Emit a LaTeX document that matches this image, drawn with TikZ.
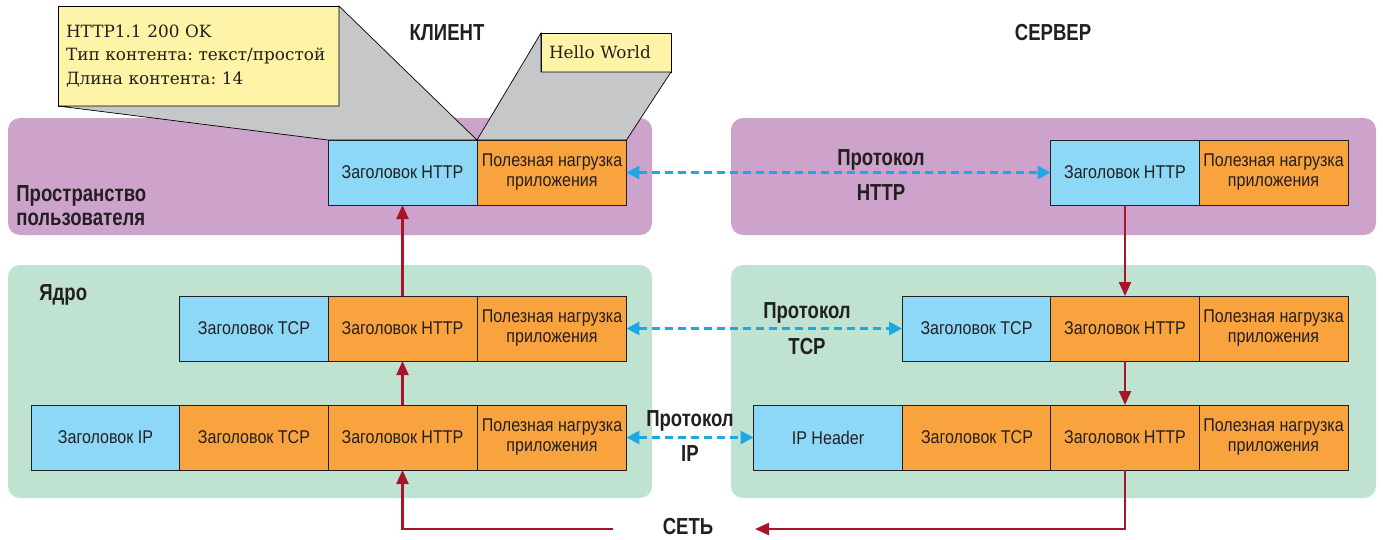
\documentclass[tikz,border=0pt]{standalone}
\usepackage{fontspec}
\usepackage{xcolor}
\usepackage{tikz}
\usetikzlibrary{arrows.meta}
\newfontfamily\cellfont[FakeStretch=0.87]{Liberation Sans}
\newfontfamily\headfont[FakeStretch=0.8]{Liberation Sans}
\newfontfamily\notefont{DejaVu Serif}
\definecolor{userpink}{HTML}{CDA3CC}
\definecolor{kernelgreen}{HTML}{C0E2D0}
\definecolor{hdrblue}{HTML}{8DD8F7}
\definecolor{hdrorange}{HTML}{F8A33D}
\definecolor{noteyellow}{HTML}{FDF4A8}
\definecolor{bevelgray}{HTML}{C6C7C9}
\definecolor{netred}{HTML}{A8142A}
\definecolor{protocyan}{HTML}{1BA8E4}
\definecolor{inkgray}{HTML}{231F20}
\frenchspacing

\begin{document}
\begin{tikzpicture}[
  x=0.02cm, y=-0.02cm,
  cell/.style={draw=inkgray, line width=0.5pt, minimum width=2.98cm, minimum height=1.3cm, inner sep=0pt, outer sep=0pt, align=center, text=inkgray, font=\cellfont\fontsize{10.5}{11.4}\selectfont},
  hdr/.style={cell, fill=hdrblue},
  load/.style={cell, fill=hdrorange},
  note/.style={draw=black, line width=0.4pt, fill=noteyellow, inner xsep=0.16cm, inner ysep=0pt, outer sep=0pt, align=left, text=inkgray, font=\notefont\fontsize{9.6}{13.3}\selectfont},
  caption/.style={text=inkgray, inner sep=0pt, font=\headfont\bfseries\fontsize{13.2}{20.4}\selectfont},
  panel/.style={rounded corners=0.24cm},
  bevel/.style={fill=bevelgray, draw=black, line width=0.4pt},
  flow/.style={netred, line width=1.3pt, -{Triangle[length=0.28cm, width=0.24cm]}},
  proto/.style={protocyan, line width=1.7pt, dash pattern=on 0.16cm off 0.1cm, {Triangle[length=0.26cm, width=0.26cm]}-{Triangle[length=0.26cm, width=0.26cm]}}
]
\useasboundingbox (0,0) rectangle (1383,539);

\fill[userpink, panel] (8,118) rectangle (652,235);
\fill[userpink, panel] (731,118) rectangle (1376,235);
\fill[kernelgreen, panel] (8,265) rectangle (652,498);
\fill[kernelgreen, panel] (731,265) rectangle (1376,498);

\node[hdr] (chttp1) at (402.5,172.5) {Заголовок HTTP};
\node[load] (cpay1) at (552,172.5) {Полезная нагрузка\\приложения};
\node[hdr] (ctcp2) at (254,328.5) {Заголовок TCP};
\node[load] (chttp2) at (402.5,328.5) {Заголовок HTTP};
\node[load] (cpay2) at (552,328.5) {Полезная нагрузка\\приложения};
\node[hdr] (cip3) at (105.5,437.5) {Заголовок IP};
\node[load] (ctcp3) at (254,437.5) {Заголовок TCP};
\node[load] (chttp3) at (402.5,437.5) {Заголовок HTTP};
\node[load] (cpay3) at (552,437.5) {Полезная нагрузка\\приложения};

\node[hdr] (shttp1) at (1125,172.5) {Заголовок HTTP};
\node[load] (spay1) at (1273.5,172.5) {Полезная нагрузка\\приложения};
\node[hdr] (stcp2) at (976.5,328.5) {Заголовок TCP};
\node[load] (shttp2) at (1125,328.5) {Заголовок HTTP};
\node[load] (spay2) at (1273.5,328.5) {Полезная нагрузка\\приложения};
\node[hdr] (sip3) at (828,437.5) {IP Header};
\node[load] (stcp3) at (977,437.5) {Заголовок TCP};
\node[load] (shttp3) at (1125,437.5) {Заголовок HTTP};
\node[load] (spay3) at (1273.5,437.5) {Полезная нагрузка\\приложения};

\node[note, text width=5.3cm, minimum height=2cm] (hdrnote) at (198.5,56) {HTTP1.1 200 OK\\Тип контента: текст/простой\\Длина контента: 14};
\node[note, text width=2.28cm, minimum height=0.78cm] (bodynote) at (606,52.5) {Hello World};
\filldraw[bevel] (hdrnote.south west) -- (chttp1.north west) -- (chttp1.north east) -- (hdrnote.north east) -- (hdrnote.south east) -- cycle;
\filldraw[bevel] (chttp1.north east) -- (bodynote.north west) -- (bodynote.south west) -- (bodynote.south east) -- (cpay1.north east) -- cycle;

\node[caption] (client) at (447,33) {КЛИЕНТ};
\node[caption] (server) at (1053,33) {СЕРВЕР};
\node[caption, anchor=west, align=left, font=\headfont\bfseries\fontsize{13.2}{13.6}\selectfont] (userspace) at (16,206) {Пространство\\пользователя};
\node[caption, anchor=west] (kernel) at (39,295) {Ядро};
\node[caption, align=center] (httpproto) at (881,175) {Протокол\\HTTP};
\node[caption, align=center] (tcpproto) at (807,329) {Протокол\\TCP};
\node[caption, align=center] (ipproto) at (690,436) {Протокол\\IP};
\node[caption] (net) at (688,527) {СЕТЬ};

\draw[flow] (chttp3.north) -- (chttp2.south);
\draw[flow] (chttp2.north) -- (chttp1.south);
\draw[flow] (shttp1.south) -- (shttp2.north);
\draw[flow] (shttp2.south) -- (shttp3.north);
\coordinate (netin) at (613,529);
\coordinate (netout) at (755,529);
\draw[flow] (netin) -| (chttp3.south);
\draw[flow] (shttp3.south) |- (netout);

\draw[proto] (cpay1.east) -- (shttp1.west);
\draw[proto] (cpay2.east) -- (stcp2.west);
\draw[proto] (cpay3.east) -- (sip3.west);
\end{tikzpicture}
\end{document}
